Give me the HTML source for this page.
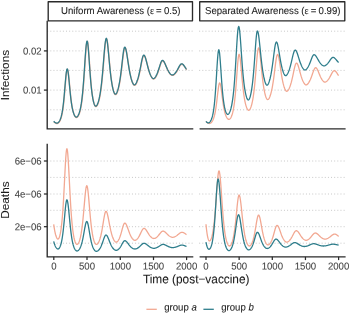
<!DOCTYPE html>
<html><head><meta charset="utf-8"><title>chart</title>
<style>
html,body{margin:0;padding:0;background:#fff;}
body{width:350px;height:315px;overflow:hidden;position:relative;font-family:"Liberation Sans",sans-serif;}
svg text{font-family:"Liberation Sans",sans-serif;stroke-width:0.08px;}
</style></head><body>
<svg width="350" height="315" viewBox="0 0 350 315" style="position:absolute;left:0;top:0;will-change:transform"><line x1="47.2" x2="193.3" y1="31.2" y2="31.2" stroke="#bebebe" stroke-width="0.9" stroke-dasharray="0.95 2.19"/><line x1="47.2" x2="193.3" y1="50.9" y2="50.9" stroke="#bebebe" stroke-width="0.9" stroke-dasharray="0.95 2.19"/><line x1="47.2" x2="193.3" y1="70.4" y2="70.4" stroke="#bebebe" stroke-width="0.9" stroke-dasharray="0.95 2.19"/><line x1="47.2" x2="193.3" y1="90.1" y2="90.1" stroke="#bebebe" stroke-width="0.9" stroke-dasharray="0.95 2.19"/><line x1="47.2" x2="193.3" y1="109.8" y2="109.8" stroke="#bebebe" stroke-width="0.9" stroke-dasharray="0.95 2.19"/><line x1="199.2" x2="345.6" y1="31.2" y2="31.2" stroke="#bebebe" stroke-width="0.9" stroke-dasharray="0.95 2.19"/><line x1="199.2" x2="345.6" y1="50.9" y2="50.9" stroke="#bebebe" stroke-width="0.9" stroke-dasharray="0.95 2.19"/><line x1="199.2" x2="345.6" y1="70.4" y2="70.4" stroke="#bebebe" stroke-width="0.9" stroke-dasharray="0.95 2.19"/><line x1="199.2" x2="345.6" y1="90.1" y2="90.1" stroke="#bebebe" stroke-width="0.9" stroke-dasharray="0.95 2.19"/><line x1="199.2" x2="345.6" y1="109.8" y2="109.8" stroke="#bebebe" stroke-width="0.9" stroke-dasharray="0.95 2.19"/><line x1="47.2" x2="193.3" y1="161.0" y2="161.0" stroke="#bebebe" stroke-width="0.9" stroke-dasharray="0.95 2.19"/><line x1="47.2" x2="193.3" y1="177.4" y2="177.4" stroke="#bebebe" stroke-width="0.9" stroke-dasharray="0.95 2.19"/><line x1="47.2" x2="193.3" y1="194.0" y2="194.0" stroke="#bebebe" stroke-width="0.9" stroke-dasharray="0.95 2.19"/><line x1="47.2" x2="193.3" y1="210.3" y2="210.3" stroke="#bebebe" stroke-width="0.9" stroke-dasharray="0.95 2.19"/><line x1="47.2" x2="193.3" y1="226.7" y2="226.7" stroke="#bebebe" stroke-width="0.9" stroke-dasharray="0.95 2.19"/><line x1="47.2" x2="193.3" y1="243.2" y2="243.2" stroke="#bebebe" stroke-width="0.9" stroke-dasharray="0.95 2.19"/><line x1="199.2" x2="345.6" y1="161.0" y2="161.0" stroke="#bebebe" stroke-width="0.9" stroke-dasharray="0.95 2.19"/><line x1="199.2" x2="345.6" y1="177.4" y2="177.4" stroke="#bebebe" stroke-width="0.9" stroke-dasharray="0.95 2.19"/><line x1="199.2" x2="345.6" y1="194.0" y2="194.0" stroke="#bebebe" stroke-width="0.9" stroke-dasharray="0.95 2.19"/><line x1="199.2" x2="345.6" y1="210.3" y2="210.3" stroke="#bebebe" stroke-width="0.9" stroke-dasharray="0.95 2.19"/><line x1="199.2" x2="345.6" y1="226.7" y2="226.7" stroke="#bebebe" stroke-width="0.9" stroke-dasharray="0.95 2.19"/><line x1="199.2" x2="345.6" y1="243.2" y2="243.2" stroke="#bebebe" stroke-width="0.9" stroke-dasharray="0.95 2.19"/><g transform="translate(0.15,0.4)"><path d="M53.70,121.30 L53.83,121.44 L53.97,121.58 L54.10,121.71 L54.23,121.84 L54.37,121.96 L54.50,122.07 L54.63,122.18 L54.77,122.28 L54.90,122.38 L55.03,122.47 L55.17,122.55 L55.30,122.63 L55.43,122.70 L55.57,122.77 L55.70,122.83 L55.83,122.89 L55.97,122.94 L56.10,122.98 L56.23,123.02 L56.37,123.05 L56.50,123.07 L56.63,123.09 L56.77,123.10 L56.90,123.10 L57.33,123.04 L57.76,122.86 L58.19,122.57 L58.62,122.16 L59.05,121.64 L59.48,120.98 L59.90,120.18 L60.33,119.21 L60.76,118.04 L61.19,116.63 L61.62,114.93 L62.05,112.88 L62.48,110.43 L62.91,107.51 L63.34,104.08 L63.77,100.11 L64.20,95.62 L64.62,90.71 L65.05,85.58 L65.48,80.51 L65.91,75.90 L66.34,72.17 L66.77,69.74 L67.20,68.90 L67.58,69.49 L67.96,71.22 L68.34,73.91 L68.72,77.31 L69.10,81.17 L69.47,85.21 L69.85,89.23 L70.23,93.06 L70.61,96.60 L70.99,99.80 L71.37,102.63 L71.75,105.12 L72.13,107.27 L72.51,109.14 L72.89,110.74 L73.27,112.12 L73.65,113.30 L74.03,114.30 L74.40,115.14 L74.78,115.83 L75.16,116.38 L75.54,116.77 L75.92,117.02 L76.30,117.10 L76.75,117.00 L77.20,116.69 L77.65,116.20 L78.10,115.51 L78.55,114.64 L79.00,113.55 L79.45,112.24 L79.90,110.67 L80.35,108.80 L80.80,106.58 L81.25,103.96 L81.70,100.85 L82.15,97.19 L82.60,92.92 L83.05,87.98 L83.50,82.37 L83.95,76.16 L84.40,69.49 L84.85,62.63 L85.30,55.96 L85.75,49.96 L86.20,45.18 L86.65,42.07 L87.10,41.00 L87.46,41.73 L87.82,43.85 L88.17,47.18 L88.53,51.43 L88.89,56.30 L89.25,61.48 L89.61,66.70 L89.97,71.76 L90.33,76.51 L90.68,80.87 L91.04,84.80 L91.40,88.30 L91.76,91.39 L92.12,94.10 L92.47,96.47 L92.83,98.53 L93.19,100.31 L93.55,101.84 L93.91,103.13 L94.27,104.21 L94.62,105.06 L94.98,105.68 L95.34,106.07 L95.70,106.20 L96.14,106.07 L96.58,105.67 L97.03,105.03 L97.47,104.16 L97.91,103.06 L98.35,101.73 L98.79,100.16 L99.23,98.33 L99.67,96.21 L100.12,93.77 L100.56,90.97 L101.00,87.77 L101.44,84.14 L101.88,80.06 L102.33,75.52 L102.77,70.57 L103.21,65.29 L103.65,59.82 L104.09,54.39 L104.53,49.28 L104.97,44.80 L105.42,41.30 L105.86,39.07 L106.30,38.30 L106.68,38.83 L107.06,40.40 L107.44,42.87 L107.82,46.08 L108.20,49.81 L108.58,53.86 L108.95,58.03 L109.33,62.17 L109.71,66.16 L110.09,69.91 L110.47,73.38 L110.85,76.54 L111.23,79.40 L111.61,81.96 L111.99,84.24 L112.37,86.27 L112.75,88.05 L113.12,89.61 L113.50,90.95 L113.88,92.07 L114.26,92.98 L114.64,93.64 L115.02,94.06 L115.40,94.20 L115.79,94.07 L116.18,93.70 L116.58,93.11 L116.97,92.31 L117.36,91.31 L117.75,90.13 L118.14,88.76 L118.53,87.19 L118.92,85.43 L119.32,83.45 L119.71,81.24 L120.10,78.79 L120.49,76.09 L120.88,73.15 L121.28,70.00 L121.67,66.66 L122.06,63.22 L122.45,59.78 L122.84,56.45 L123.23,53.40 L123.62,50.80 L124.02,48.79 L124.41,47.53 L124.80,47.10 L125.20,47.41 L125.60,48.33 L126.00,49.79 L126.40,51.71 L126.80,53.98 L127.20,56.48 L127.60,59.12 L128.00,61.78 L128.40,64.40 L128.80,66.92 L129.20,69.30 L129.60,71.52 L130.00,73.56 L130.40,75.42 L130.80,77.12 L131.20,78.65 L131.60,80.02 L132.00,81.23 L132.40,82.28 L132.80,83.18 L133.20,83.90 L133.60,84.45 L134.00,84.78 L134.40,84.90 L134.79,84.80 L135.18,84.52 L135.58,84.07 L135.97,83.47 L136.36,82.73 L136.75,81.86 L137.14,80.86 L137.53,79.75 L137.93,78.50 L138.32,77.13 L138.71,75.63 L139.10,73.99 L139.49,72.23 L139.88,70.35 L140.28,68.37 L140.67,66.32 L141.06,64.26 L141.45,62.23 L141.84,60.32 L142.23,58.59 L142.62,57.13 L143.02,56.03 L143.41,55.34 L143.80,55.10 L144.20,55.27 L144.60,55.79 L145.00,56.61 L145.40,57.70 L145.80,59.00 L146.20,60.46 L146.60,62.01 L147.00,63.60 L147.40,65.19 L147.80,66.74 L148.20,68.22 L148.60,69.63 L149.00,70.94 L149.40,72.16 L149.80,73.28 L150.20,74.30 L150.60,75.22 L151.00,76.05 L151.40,76.77 L151.80,77.39 L152.20,77.90 L152.60,78.28 L153.00,78.52 L153.40,78.60 L153.78,78.53 L154.16,78.34 L154.54,78.04 L154.92,77.63 L155.30,77.13 L155.68,76.55 L156.05,75.90 L156.43,75.16 L156.81,74.35 L157.19,73.47 L157.57,72.52 L157.95,71.49 L158.33,70.40 L158.71,69.25 L159.09,68.05 L159.47,66.83 L159.85,65.61 L160.22,64.44 L160.60,63.34 L160.98,62.35 L161.36,61.53 L161.74,60.92 L162.12,60.53 L162.50,60.40 L162.91,60.50 L163.32,60.80 L163.72,61.28 L164.13,61.92 L164.54,62.69 L164.95,63.55 L165.36,64.48 L165.77,65.45 L166.18,66.42 L166.58,67.37 L166.99,68.30 L167.40,69.18 L167.81,70.01 L168.22,70.78 L168.62,71.50 L169.03,72.16 L169.44,72.76 L169.85,73.31 L170.26,73.78 L170.67,74.20 L171.08,74.53 L171.48,74.79 L171.89,74.95 L172.30,75.00 L172.69,74.96 L173.08,74.83 L173.48,74.63 L173.87,74.37 L174.26,74.04 L174.65,73.67 L175.04,73.25 L175.43,72.78 L175.82,72.26 L176.22,71.71 L176.61,71.11 L177.00,70.46 L177.39,69.79 L177.78,69.08 L178.18,68.35 L178.57,67.61 L178.96,66.88 L179.35,66.17 L179.74,65.52 L180.13,64.94 L180.52,64.46 L180.92,64.10 L181.31,63.88 L181.70,63.80 L181.90,63.82 L182.10,63.86 L182.30,63.94 L182.50,64.05 L182.70,64.19 L182.90,64.35 L183.10,64.54 L183.30,64.75 L183.50,64.98 L183.70,65.23 L183.90,65.49 L184.10,65.77 L184.30,66.05 L184.50,66.35 L184.70,66.65 L184.90,66.95 L185.10,67.26 L185.30,67.56 L185.50,67.86 L185.70,68.16 L185.90,68.46 L186.10,68.74 L186.30,69.03 L186.50,69.30" fill="none" stroke="#f2a892" stroke-width="1.45" stroke-linejoin="round" stroke-linecap="butt"/></g><path d="M53.70,121.30 L53.83,121.44 L53.97,121.58 L54.10,121.71 L54.23,121.84 L54.37,121.96 L54.50,122.07 L54.63,122.18 L54.77,122.28 L54.90,122.38 L55.03,122.47 L55.17,122.55 L55.30,122.63 L55.43,122.70 L55.57,122.77 L55.70,122.83 L55.83,122.89 L55.97,122.94 L56.10,122.98 L56.23,123.02 L56.37,123.05 L56.50,123.07 L56.63,123.09 L56.77,123.10 L56.90,123.10 L57.33,123.04 L57.76,122.86 L58.19,122.57 L58.62,122.16 L59.05,121.64 L59.48,120.98 L59.90,120.18 L60.33,119.21 L60.76,118.04 L61.19,116.63 L61.62,114.93 L62.05,112.88 L62.48,110.43 L62.91,107.51 L63.34,104.08 L63.77,100.11 L64.20,95.62 L64.62,90.71 L65.05,85.58 L65.48,80.51 L65.91,75.90 L66.34,72.17 L66.77,69.74 L67.20,68.90 L67.58,69.49 L67.96,71.22 L68.34,73.91 L68.72,77.31 L69.10,81.17 L69.47,85.21 L69.85,89.23 L70.23,93.06 L70.61,96.60 L70.99,99.80 L71.37,102.63 L71.75,105.12 L72.13,107.27 L72.51,109.14 L72.89,110.74 L73.27,112.12 L73.65,113.30 L74.03,114.30 L74.40,115.14 L74.78,115.83 L75.16,116.38 L75.54,116.77 L75.92,117.02 L76.30,117.10 L76.75,117.00 L77.20,116.69 L77.65,116.20 L78.10,115.51 L78.55,114.64 L79.00,113.55 L79.45,112.24 L79.90,110.67 L80.35,108.80 L80.80,106.58 L81.25,103.96 L81.70,100.85 L82.15,97.19 L82.60,92.92 L83.05,87.98 L83.50,82.37 L83.95,76.16 L84.40,69.49 L84.85,62.63 L85.30,55.96 L85.75,49.96 L86.20,45.18 L86.65,42.07 L87.10,41.00 L87.46,41.73 L87.82,43.85 L88.17,47.18 L88.53,51.43 L88.89,56.30 L89.25,61.48 L89.61,66.70 L89.97,71.76 L90.33,76.51 L90.68,80.87 L91.04,84.80 L91.40,88.30 L91.76,91.39 L92.12,94.10 L92.47,96.47 L92.83,98.53 L93.19,100.31 L93.55,101.84 L93.91,103.13 L94.27,104.21 L94.62,105.06 L94.98,105.68 L95.34,106.07 L95.70,106.20 L96.14,106.07 L96.58,105.67 L97.03,105.03 L97.47,104.16 L97.91,103.06 L98.35,101.73 L98.79,100.16 L99.23,98.33 L99.67,96.21 L100.12,93.77 L100.56,90.97 L101.00,87.77 L101.44,84.14 L101.88,80.06 L102.33,75.52 L102.77,70.57 L103.21,65.29 L103.65,59.82 L104.09,54.39 L104.53,49.28 L104.97,44.80 L105.42,41.30 L105.86,39.07 L106.30,38.30 L106.68,38.83 L107.06,40.40 L107.44,42.87 L107.82,46.08 L108.20,49.81 L108.58,53.86 L108.95,58.03 L109.33,62.17 L109.71,66.16 L110.09,69.91 L110.47,73.38 L110.85,76.54 L111.23,79.40 L111.61,81.96 L111.99,84.24 L112.37,86.27 L112.75,88.05 L113.12,89.61 L113.50,90.95 L113.88,92.07 L114.26,92.98 L114.64,93.64 L115.02,94.06 L115.40,94.20 L115.79,94.07 L116.18,93.70 L116.58,93.11 L116.97,92.31 L117.36,91.31 L117.75,90.13 L118.14,88.76 L118.53,87.19 L118.92,85.43 L119.32,83.45 L119.71,81.24 L120.10,78.79 L120.49,76.09 L120.88,73.15 L121.28,70.00 L121.67,66.66 L122.06,63.22 L122.45,59.78 L122.84,56.45 L123.23,53.40 L123.62,50.80 L124.02,48.79 L124.41,47.53 L124.80,47.10 L125.20,47.41 L125.60,48.33 L126.00,49.79 L126.40,51.71 L126.80,53.98 L127.20,56.48 L127.60,59.12 L128.00,61.78 L128.40,64.40 L128.80,66.92 L129.20,69.30 L129.60,71.52 L130.00,73.56 L130.40,75.42 L130.80,77.12 L131.20,78.65 L131.60,80.02 L132.00,81.23 L132.40,82.28 L132.80,83.18 L133.20,83.90 L133.60,84.45 L134.00,84.78 L134.40,84.90 L134.79,84.80 L135.18,84.52 L135.58,84.07 L135.97,83.47 L136.36,82.73 L136.75,81.86 L137.14,80.86 L137.53,79.75 L137.93,78.50 L138.32,77.13 L138.71,75.63 L139.10,73.99 L139.49,72.23 L139.88,70.35 L140.28,68.37 L140.67,66.32 L141.06,64.26 L141.45,62.23 L141.84,60.32 L142.23,58.59 L142.62,57.13 L143.02,56.03 L143.41,55.34 L143.80,55.10 L144.20,55.27 L144.60,55.79 L145.00,56.61 L145.40,57.70 L145.80,59.00 L146.20,60.46 L146.60,62.01 L147.00,63.60 L147.40,65.19 L147.80,66.74 L148.20,68.22 L148.60,69.63 L149.00,70.94 L149.40,72.16 L149.80,73.28 L150.20,74.30 L150.60,75.22 L151.00,76.05 L151.40,76.77 L151.80,77.39 L152.20,77.90 L152.60,78.28 L153.00,78.52 L153.40,78.60 L153.78,78.53 L154.16,78.34 L154.54,78.04 L154.92,77.63 L155.30,77.13 L155.68,76.55 L156.05,75.90 L156.43,75.16 L156.81,74.35 L157.19,73.47 L157.57,72.52 L157.95,71.49 L158.33,70.40 L158.71,69.25 L159.09,68.05 L159.47,66.83 L159.85,65.61 L160.22,64.44 L160.60,63.34 L160.98,62.35 L161.36,61.53 L161.74,60.92 L162.12,60.53 L162.50,60.40 L162.91,60.50 L163.32,60.80 L163.72,61.28 L164.13,61.92 L164.54,62.69 L164.95,63.55 L165.36,64.48 L165.77,65.45 L166.18,66.42 L166.58,67.37 L166.99,68.30 L167.40,69.18 L167.81,70.01 L168.22,70.78 L168.62,71.50 L169.03,72.16 L169.44,72.76 L169.85,73.31 L170.26,73.78 L170.67,74.20 L171.08,74.53 L171.48,74.79 L171.89,74.95 L172.30,75.00 L172.69,74.96 L173.08,74.83 L173.48,74.63 L173.87,74.37 L174.26,74.04 L174.65,73.67 L175.04,73.25 L175.43,72.78 L175.82,72.26 L176.22,71.71 L176.61,71.11 L177.00,70.46 L177.39,69.79 L177.78,69.08 L178.18,68.35 L178.57,67.61 L178.96,66.88 L179.35,66.17 L179.74,65.52 L180.13,64.94 L180.52,64.46 L180.92,64.10 L181.31,63.88 L181.70,63.80 L181.90,63.82 L182.10,63.86 L182.30,63.94 L182.50,64.05 L182.70,64.19 L182.90,64.35 L183.10,64.54 L183.30,64.75 L183.50,64.98 L183.70,65.23 L183.90,65.49 L184.10,65.77 L184.30,66.05 L184.50,66.35 L184.70,66.65 L184.90,66.95 L185.10,67.26 L185.30,67.56 L185.50,67.86 L185.70,68.16 L185.90,68.46 L186.10,68.74 L186.30,69.03 L186.50,69.30" fill="none" stroke="#2f7e8c" stroke-width="1.3" stroke-linejoin="round" stroke-linecap="butt"/><path d="M206.00,121.30 L206.14,121.48 L206.28,121.65 L206.43,121.82 L206.57,121.97 L206.71,122.12 L206.85,122.26 L206.99,122.39 L207.13,122.51 L207.28,122.63 L207.42,122.74 L207.56,122.84 L207.70,122.94 L207.84,123.02 L207.98,123.10 L208.12,123.18 L208.27,123.24 L208.41,123.30 L208.55,123.35 L208.69,123.40 L208.83,123.43 L208.97,123.46 L209.12,123.48 L209.26,123.50 L209.40,123.50 L209.83,123.45 L210.26,123.30 L210.69,123.05 L211.12,122.71 L211.55,122.26 L211.97,121.72 L212.40,121.05 L212.83,120.25 L213.26,119.30 L213.69,118.16 L214.12,116.80 L214.55,115.18 L214.98,113.27 L215.41,111.02 L215.84,108.41 L216.27,105.42 L216.70,102.08 L217.12,98.48 L217.55,94.76 L217.98,91.12 L218.41,87.84 L218.84,85.20 L219.27,83.49 L219.70,82.90 L220.08,83.34 L220.47,84.62 L220.85,86.62 L221.23,89.16 L221.62,92.03 L222.00,95.06 L222.38,98.08 L222.77,100.97 L223.15,103.65 L223.53,106.07 L223.92,108.23 L224.30,110.13 L224.68,111.78 L225.07,113.22 L225.45,114.46 L225.83,115.52 L226.22,116.44 L226.60,117.22 L226.98,117.87 L227.37,118.41 L227.75,118.83 L228.13,119.14 L228.52,119.34 L228.90,119.40 L229.33,119.31 L229.75,119.06 L230.18,118.65 L230.60,118.08 L231.03,117.35 L231.45,116.44 L231.88,115.35 L232.30,114.03 L232.72,112.47 L233.15,110.60 L233.57,108.38 L234.00,105.76 L234.43,102.66 L234.85,99.02 L235.28,94.81 L235.70,90.02 L236.12,84.69 L236.55,78.95 L236.97,73.03 L237.40,67.27 L237.82,62.08 L238.25,57.93 L238.67,55.23 L239.10,54.30 L239.50,54.93 L239.90,56.78 L240.30,59.67 L240.70,63.36 L241.10,67.58 L241.50,72.06 L241.90,76.57 L242.30,80.93 L242.70,85.01 L243.10,88.75 L243.50,92.12 L243.90,95.11 L244.30,97.75 L244.70,100.06 L245.10,102.07 L245.50,103.81 L245.90,105.32 L246.30,106.62 L246.70,107.71 L247.10,108.62 L247.50,109.34 L247.90,109.86 L248.30,110.19 L248.70,110.30 L249.11,110.18 L249.52,109.84 L249.94,109.28 L250.35,108.51 L250.76,107.55 L251.18,106.38 L251.59,104.99 L252.00,103.36 L252.41,101.48 L252.82,99.30 L253.24,96.78 L253.65,93.89 L254.06,90.60 L254.48,86.88 L254.89,82.72 L255.30,78.15 L255.71,73.26 L256.12,68.17 L256.54,63.09 L256.95,58.28 L257.36,54.06 L257.78,50.75 L258.19,48.63 L258.60,47.90 L258.98,48.41 L259.36,49.88 L259.74,52.22 L260.12,55.24 L260.50,58.75 L260.88,62.55 L261.25,66.45 L261.63,70.31 L262.01,74.01 L262.39,77.48 L262.77,80.68 L263.15,83.58 L263.53,86.20 L263.91,88.54 L264.29,90.61 L264.67,92.45 L265.05,94.07 L265.43,95.47 L265.80,96.68 L266.18,97.69 L266.56,98.50 L266.94,99.10 L267.32,99.47 L267.70,99.60 L268.11,99.48 L268.52,99.14 L268.94,98.60 L269.35,97.86 L269.76,96.94 L270.18,95.84 L270.59,94.57 L271.00,93.11 L271.41,91.46 L271.82,89.60 L272.24,87.52 L272.65,85.21 L273.06,82.65 L273.48,79.84 L273.89,76.82 L274.30,73.61 L274.71,70.28 L275.12,66.93 L275.54,63.69 L275.95,60.71 L276.36,58.14 L276.78,56.17 L277.19,54.93 L277.60,54.50 L277.98,54.81 L278.36,55.73 L278.74,57.19 L279.12,59.10 L279.50,61.35 L279.88,63.83 L280.25,66.43 L280.63,69.05 L281.01,71.62 L281.39,74.07 L281.77,76.38 L282.15,78.53 L282.53,80.50 L282.91,82.29 L283.29,83.92 L283.67,85.38 L284.05,86.68 L284.43,87.83 L284.80,88.83 L285.18,89.68 L285.56,90.36 L285.94,90.87 L286.32,91.19 L286.70,91.30 L287.11,91.21 L287.52,90.95 L287.93,90.53 L288.33,89.97 L288.74,89.29 L289.15,88.48 L289.56,87.55 L289.97,86.51 L290.38,85.35 L290.78,84.06 L291.19,82.65 L291.60,81.11 L292.01,79.45 L292.42,77.67 L292.82,75.80 L293.23,73.86 L293.64,71.89 L294.05,69.95 L294.46,68.12 L294.87,66.46 L295.27,65.06 L295.68,63.99 L296.09,63.33 L296.50,63.10 L296.90,63.26 L297.30,63.74 L297.70,64.51 L298.10,65.53 L298.50,66.75 L298.90,68.11 L299.30,69.55 L299.70,71.03 L300.10,72.51 L300.50,73.95 L300.90,75.32 L301.30,76.63 L301.70,77.84 L302.10,78.97 L302.50,80.00 L302.90,80.94 L303.30,81.79 L303.70,82.55 L304.10,83.22 L304.50,83.79 L304.90,84.26 L305.30,84.61 L305.70,84.82 L306.10,84.90 L306.50,84.84 L306.90,84.66 L307.30,84.37 L307.70,83.99 L308.10,83.53 L308.50,82.98 L308.90,82.37 L309.30,81.68 L309.70,80.92 L310.10,80.09 L310.50,79.19 L310.90,78.22 L311.30,77.19 L311.70,76.10 L312.10,74.97 L312.50,73.82 L312.90,72.66 L313.30,71.54 L313.70,70.50 L314.10,69.56 L314.50,68.78 L314.90,68.19 L315.30,67.82 L315.70,67.70 L316.08,67.80 L316.47,68.10 L316.85,68.58 L317.23,69.22 L317.62,69.98 L318.00,70.85 L318.38,71.77 L318.77,72.72 L319.15,73.68 L319.53,74.63 L319.92,75.54 L320.30,76.41 L320.68,77.22 L321.07,77.98 L321.45,78.69 L321.83,79.33 L322.22,79.92 L322.60,80.45 L322.98,80.92 L323.37,81.32 L323.75,81.65 L324.13,81.89 L324.52,82.05 L324.90,82.10 L325.29,82.06 L325.68,81.93 L326.07,81.73 L326.47,81.47 L326.86,81.14 L327.25,80.76 L327.64,80.34 L328.03,79.86 L328.43,79.35 L328.82,78.78 L329.21,78.17 L329.60,77.52 L329.99,76.83 L330.38,76.11 L330.77,75.37 L331.17,74.61 L331.56,73.86 L331.95,73.14 L332.34,72.47 L332.73,71.88 L333.12,71.38 L333.52,71.01 L333.91,70.78 L334.30,70.70 L334.48,70.71 L334.66,70.75 L334.84,70.82 L335.02,70.91 L335.20,71.03 L335.38,71.16 L335.55,71.33 L335.73,71.51 L335.91,71.71 L336.09,71.92 L336.27,72.15 L336.45,72.40 L336.63,72.65 L336.81,72.92 L336.99,73.19 L337.17,73.47 L337.35,73.75 L337.53,74.03 L337.70,74.31 L337.88,74.60 L338.06,74.88 L338.24,75.16 L338.42,75.43 L338.60,75.70" fill="none" stroke="#f2a892" stroke-width="1.3" stroke-linejoin="round" stroke-linecap="butt"/><path d="M206.00,121.30 L206.10,121.43 L206.19,121.56 L206.29,121.68 L206.38,121.79 L206.48,121.90 L206.57,122.00 L206.67,122.10 L206.77,122.19 L206.86,122.27 L206.96,122.35 L207.05,122.43 L207.15,122.50 L207.25,122.56 L207.34,122.62 L207.44,122.67 L207.53,122.72 L207.63,122.76 L207.73,122.80 L207.82,122.83 L207.92,122.85 L208.01,122.87 L208.11,122.89 L208.20,122.90 L208.30,122.90 L208.74,122.83 L209.18,122.63 L209.61,122.29 L210.05,121.82 L210.49,121.21 L210.93,120.44 L211.36,119.49 L211.80,118.33 L212.24,116.91 L212.68,115.18 L213.11,113.06 L213.55,110.49 L213.99,107.35 L214.43,103.56 L214.86,99.04 L215.30,93.72 L215.74,87.61 L216.18,80.83 L216.61,73.64 L217.05,66.45 L217.49,59.84 L217.93,54.46 L218.36,50.93 L218.80,49.70 L219.17,50.52 L219.54,52.90 L219.91,56.60 L220.28,61.27 L220.65,66.55 L221.03,72.06 L221.40,77.52 L221.77,82.69 L222.14,87.45 L222.51,91.72 L222.88,95.50 L223.25,98.79 L223.62,101.63 L223.99,104.08 L224.36,106.18 L224.73,107.98 L225.10,109.51 L225.47,110.80 L225.85,111.89 L226.22,112.78 L226.59,113.47 L226.96,113.98 L227.33,114.29 L227.70,114.40 L228.16,114.28 L228.62,113.92 L229.07,113.33 L229.53,112.51 L229.99,111.47 L230.45,110.18 L230.91,108.63 L231.37,106.77 L231.82,104.57 L232.28,101.96 L232.74,98.88 L233.20,95.24 L233.66,90.97 L234.12,86.00 L234.57,80.27 L235.03,73.79 L235.49,66.62 L235.95,58.95 L236.41,51.08 L236.87,43.45 L237.32,36.61 L237.78,31.15 L238.24,27.62 L238.70,26.40 L239.10,27.20 L239.50,29.52 L239.90,33.16 L240.30,37.83 L240.70,43.20 L241.10,48.94 L241.50,54.75 L241.90,60.41 L242.30,65.75 L242.70,70.68 L243.10,75.15 L243.50,79.15 L243.90,82.70 L244.30,85.83 L244.70,88.57 L245.10,90.97 L245.50,93.05 L245.90,94.84 L246.30,96.37 L246.70,97.64 L247.10,98.65 L247.50,99.39 L247.90,99.84 L248.30,100.00 L248.68,99.85 L249.06,99.41 L249.44,98.70 L249.82,97.73 L250.20,96.51 L250.57,95.05 L250.95,93.33 L251.33,91.34 L251.71,89.06 L252.09,86.45 L252.47,83.48 L252.85,80.12 L253.23,76.35 L253.61,72.14 L253.99,67.52 L254.37,62.52 L254.75,57.24 L255.12,51.84 L255.50,46.52 L255.88,41.55 L256.26,37.23 L256.64,33.87 L257.02,31.73 L257.40,31.00 L257.80,31.49 L258.20,32.91 L258.60,35.17 L259.00,38.12 L259.40,41.57 L259.80,45.35 L260.20,49.27 L260.60,53.20 L261.00,57.02 L261.40,60.65 L261.80,64.04 L262.20,67.16 L262.60,70.00 L263.00,72.58 L263.40,74.89 L263.80,76.95 L264.20,78.78 L264.60,80.39 L265.00,81.79 L265.40,82.96 L265.80,83.91 L266.20,84.61 L266.60,85.05 L267.00,85.20 L267.39,85.07 L267.78,84.70 L268.18,84.10 L268.57,83.30 L268.96,82.31 L269.35,81.14 L269.74,79.79 L270.13,78.26 L270.52,76.55 L270.92,74.65 L271.31,72.55 L271.70,70.24 L272.09,67.72 L272.48,65.01 L272.88,62.12 L273.27,59.11 L273.66,56.03 L274.05,52.98 L274.44,50.06 L274.83,47.41 L275.22,45.17 L275.62,43.45 L276.01,42.37 L276.40,42.00 L276.78,42.26 L277.17,43.04 L277.55,44.27 L277.93,45.90 L278.32,47.84 L278.70,49.99 L279.08,52.27 L279.47,54.59 L279.85,56.90 L280.23,59.14 L280.62,61.26 L281.00,63.26 L281.38,65.12 L281.77,66.83 L282.15,68.39 L282.53,69.81 L282.92,71.08 L283.30,72.22 L283.68,73.21 L284.07,74.06 L284.45,74.75 L284.83,75.27 L285.22,75.59 L285.60,75.70 L286.00,75.61 L286.40,75.35 L286.80,74.94 L287.20,74.39 L287.60,73.72 L288.00,72.93 L288.40,72.03 L288.80,71.03 L289.20,69.92 L289.60,68.71 L290.00,67.39 L290.40,65.96 L290.80,64.43 L291.20,62.81 L291.60,61.12 L292.00,59.39 L292.40,57.65 L292.80,55.96 L293.20,54.37 L293.60,52.95 L294.00,51.75 L294.40,50.85 L294.80,50.29 L295.20,50.10 L295.61,50.24 L296.02,50.66 L296.43,51.33 L296.83,52.22 L297.24,53.29 L297.65,54.48 L298.06,55.77 L298.47,57.09 L298.88,58.42 L299.28,59.73 L299.69,60.99 L300.10,62.19 L300.51,63.31 L300.92,64.36 L301.32,65.33 L301.73,66.21 L302.14,67.02 L302.55,67.74 L302.96,68.38 L303.37,68.93 L303.77,69.38 L304.18,69.72 L304.59,69.93 L305.00,70.00 L305.38,69.94 L305.76,69.77 L306.14,69.51 L306.52,69.15 L306.90,68.72 L307.27,68.22 L307.65,67.65 L308.03,67.02 L308.41,66.32 L308.79,65.57 L309.17,64.75 L309.55,63.88 L309.93,62.96 L310.31,61.99 L310.69,60.99 L311.07,59.97 L311.45,58.97 L311.83,58.00 L312.20,57.09 L312.58,56.29 L312.96,55.62 L313.34,55.12 L313.72,54.81 L314.10,54.70 L314.51,54.78 L314.93,55.00 L315.34,55.35 L315.75,55.83 L316.16,56.40 L316.58,57.05 L316.99,57.75 L317.40,58.48 L317.81,59.21 L318.23,59.94 L318.64,60.65 L319.05,61.33 L319.46,61.97 L319.88,62.58 L320.29,63.14 L320.70,63.66 L321.11,64.13 L321.52,64.56 L321.94,64.93 L322.35,65.26 L322.76,65.53 L323.18,65.73 L323.59,65.86 L324.00,65.90 L324.38,65.87 L324.76,65.77 L325.14,65.61 L325.52,65.41 L325.90,65.15 L326.27,64.86 L326.65,64.53 L327.03,64.17 L327.41,63.77 L327.79,63.34 L328.17,62.88 L328.55,62.39 L328.93,61.88 L329.31,61.34 L329.69,60.79 L330.07,60.23 L330.45,59.68 L330.83,59.16 L331.20,58.67 L331.58,58.24 L331.96,57.89 L332.34,57.62 L332.72,57.46 L333.10,57.40 L333.33,57.42 L333.56,57.47 L333.79,57.55 L334.02,57.66 L334.25,57.81 L334.48,57.98 L334.70,58.17 L334.93,58.38 L335.16,58.62 L335.39,58.86 L335.62,59.12 L335.85,59.39 L336.08,59.67 L336.31,59.94 L336.54,60.22 L336.77,60.50 L337.00,60.77 L337.23,61.04 L337.45,61.31 L337.68,61.56 L337.91,61.81 L338.14,62.05 L338.37,62.28 L338.60,62.50" fill="none" stroke="#2f7e8c" stroke-width="1.3" stroke-linejoin="round" stroke-linecap="butt"/><path d="M53.70,224.30 L53.88,225.59 L54.06,226.81 L54.24,227.96 L54.42,229.04 L54.60,230.06 L54.77,231.01 L54.95,231.90 L55.13,232.73 L55.31,233.51 L55.49,234.23 L55.67,234.90 L55.85,235.51 L56.03,236.08 L56.21,236.60 L56.39,237.06 L56.57,237.49 L56.75,237.86 L56.92,238.18 L57.10,238.46 L57.28,238.69 L57.46,238.87 L57.64,239.00 L57.82,239.07 L58.00,239.10 L58.37,238.95 L58.74,238.52 L59.11,237.79 L59.48,236.79 L59.85,235.49 L60.23,233.88 L60.60,231.94 L60.97,229.63 L61.34,226.91 L61.71,223.73 L62.08,220.03 L62.45,215.77 L62.82,210.89 L63.19,205.37 L63.56,199.21 L63.93,192.47 L64.30,185.28 L64.68,177.84 L65.05,170.47 L65.42,163.53 L65.79,157.48 L66.16,152.75 L66.53,149.74 L66.90,148.70 L67.32,149.92 L67.74,153.45 L68.16,158.96 L68.58,165.95 L69.00,173.86 L69.43,182.16 L69.85,190.38 L70.27,198.20 L70.69,205.39 L71.11,211.84 L71.53,217.51 L71.95,222.43 L72.37,226.65 L72.79,230.24 L73.21,233.28 L73.63,235.84 L74.05,237.98 L74.47,239.75 L74.90,241.20 L75.32,242.36 L75.74,243.26 L76.16,243.89 L76.58,244.27 L77.00,244.40 L77.41,244.30 L77.82,243.99 L78.22,243.50 L78.63,242.80 L79.04,241.91 L79.45,240.81 L79.86,239.48 L80.27,237.91 L80.67,236.07 L81.08,233.93 L81.49,231.46 L81.90,228.63 L82.31,225.41 L82.72,221.80 L83.12,217.79 L83.53,213.43 L83.94,208.81 L84.35,204.07 L84.76,199.38 L85.17,195.00 L85.58,191.20 L85.98,188.23 L86.39,186.35 L86.80,185.70 L87.20,186.35 L87.60,188.23 L88.00,191.20 L88.40,195.00 L88.80,199.38 L89.20,204.07 L89.60,208.81 L90.00,213.43 L90.40,217.79 L90.80,221.80 L91.20,225.41 L91.60,228.63 L92.00,231.46 L92.40,233.93 L92.80,236.07 L93.20,237.91 L93.60,239.48 L94.00,240.81 L94.40,241.91 L94.80,242.80 L95.20,243.50 L95.60,243.99 L96.00,244.30 L96.40,244.40 L96.80,244.33 L97.20,244.10 L97.60,243.74 L98.00,243.25 L98.40,242.61 L98.80,241.85 L99.20,240.94 L99.60,239.89 L100.00,238.68 L100.40,237.30 L100.80,235.76 L101.20,234.02 L101.60,232.11 L102.00,230.01 L102.40,227.75 L102.80,225.35 L103.20,222.88 L103.60,220.40 L104.00,218.01 L104.40,215.82 L104.80,213.95 L105.20,212.52 L105.60,211.61 L106.00,211.30 L106.42,211.57 L106.85,212.37 L107.28,213.64 L107.70,215.30 L108.12,217.25 L108.55,219.39 L108.97,221.63 L109.40,223.89 L109.83,226.09 L110.25,228.19 L110.67,230.15 L111.10,231.96 L111.53,233.61 L111.95,235.10 L112.38,236.43 L112.80,237.61 L113.23,238.65 L113.65,239.54 L114.08,240.31 L114.50,240.94 L114.92,241.44 L115.35,241.80 L115.78,242.02 L116.20,242.10 L116.56,242.05 L116.92,241.88 L117.28,241.62 L117.63,241.27 L117.99,240.82 L118.35,240.28 L118.71,239.66 L119.07,238.95 L119.42,238.16 L119.78,237.27 L120.14,236.30 L120.50,235.23 L120.86,234.09 L121.22,232.87 L121.58,231.59 L121.93,230.27 L122.29,228.94 L122.65,227.64 L123.01,226.41 L123.37,225.31 L123.72,224.39 L124.08,223.69 L124.44,223.25 L124.80,223.10 L125.22,223.23 L125.64,223.61 L126.06,224.22 L126.48,225.02 L126.90,225.99 L127.33,227.07 L127.75,228.22 L128.17,229.40 L128.59,230.58 L129.01,231.73 L129.43,232.84 L129.85,233.89 L130.27,234.86 L130.69,235.76 L131.11,236.58 L131.53,237.32 L131.95,237.99 L132.38,238.57 L132.80,239.08 L133.22,239.50 L133.64,239.84 L134.06,240.09 L134.48,240.25 L134.90,240.30 L135.28,240.26 L135.66,240.14 L136.04,239.96 L136.42,239.70 L136.80,239.39 L137.18,239.01 L137.55,238.58 L137.93,238.10 L138.31,237.56 L138.69,236.97 L139.07,236.33 L139.45,235.64 L139.83,234.91 L140.21,234.14 L140.59,233.35 L140.97,232.55 L141.35,231.76 L141.72,230.99 L142.10,230.28 L142.48,229.65 L142.86,229.12 L143.24,228.73 L143.62,228.48 L144.00,228.40 L144.41,228.47 L144.82,228.67 L145.24,228.99 L145.65,229.42 L146.06,229.94 L146.47,230.53 L146.89,231.16 L147.30,231.82 L147.71,232.50 L148.12,233.16 L148.54,233.81 L148.95,234.43 L149.36,235.02 L149.78,235.58 L150.19,236.09 L150.60,236.56 L151.01,236.98 L151.43,237.36 L151.84,237.69 L152.25,237.97 L152.66,238.20 L153.08,238.36 L153.49,238.46 L153.90,238.50 L154.28,238.47 L154.66,238.39 L155.04,238.27 L155.42,238.09 L155.80,237.88 L156.18,237.63 L156.55,237.34 L156.93,237.02 L157.31,236.67 L157.69,236.29 L158.07,235.88 L158.45,235.44 L158.83,234.98 L159.21,234.51 L159.59,234.02 L159.97,233.54 L160.35,233.06 L160.72,232.60 L161.10,232.19 L161.48,231.82 L161.86,231.52 L162.24,231.29 L162.62,231.15 L163.00,231.10 L163.40,231.14 L163.80,231.25 L164.20,231.44 L164.60,231.69 L165.00,231.99 L165.40,232.33 L165.80,232.71 L166.20,233.10 L166.60,233.51 L167.00,233.91 L167.40,234.31 L167.80,234.69 L168.20,235.06 L168.60,235.41 L169.00,235.73 L169.40,236.03 L169.80,236.31 L170.20,236.55 L170.60,236.77 L171.00,236.95 L171.40,237.10 L171.80,237.21 L172.20,237.28 L172.60,237.30 L172.99,237.28 L173.38,237.22 L173.78,237.13 L174.17,237.01 L174.56,236.86 L174.95,236.68 L175.34,236.48 L175.73,236.26 L176.12,236.02 L176.52,235.75 L176.91,235.47 L177.30,235.17 L177.69,234.86 L178.08,234.54 L178.47,234.22 L178.87,233.89 L179.26,233.58 L179.65,233.28 L180.04,233.00 L180.43,232.77 L180.82,232.57 L181.22,232.42 L181.61,232.33 L182.00,232.30 L182.19,232.31 L182.38,232.32 L182.56,232.35 L182.75,232.39 L182.94,232.45 L183.12,232.51 L183.31,232.58 L183.50,232.66 L183.69,232.75 L183.88,232.85 L184.06,232.95 L184.25,233.06 L184.44,233.18 L184.62,233.30 L184.81,233.42 L185.00,233.55 L185.19,233.68 L185.38,233.81 L185.56,233.95 L185.75,234.08 L185.94,234.21 L186.12,234.34 L186.31,234.47 L186.50,234.60" fill="none" stroke="#f2a892" stroke-width="1.3" stroke-linejoin="round" stroke-linecap="butt"/><path d="M53.70,241.40 L53.88,242.06 L54.06,242.69 L54.24,243.28 L54.42,243.83 L54.60,244.35 L54.77,244.84 L54.95,245.30 L55.13,245.73 L55.31,246.13 L55.49,246.50 L55.67,246.84 L55.85,247.16 L56.03,247.45 L56.21,247.71 L56.39,247.95 L56.57,248.17 L56.75,248.36 L56.92,248.53 L57.10,248.67 L57.28,248.79 L57.46,248.88 L57.64,248.95 L57.82,248.99 L58.00,249.00 L58.37,248.92 L58.74,248.69 L59.11,248.31 L59.48,247.78 L59.85,247.09 L60.23,246.23 L60.60,245.20 L60.97,243.97 L61.34,242.51 L61.71,240.81 L62.08,238.82 L62.45,236.52 L62.82,233.88 L63.19,230.89 L63.56,227.54 L63.93,223.87 L64.30,219.94 L64.68,215.86 L65.05,211.81 L65.42,207.99 L65.79,204.65 L66.16,202.04 L66.53,200.37 L66.90,199.80 L67.32,200.44 L67.74,202.31 L68.16,205.21 L68.58,208.91 L69.00,213.10 L69.43,217.50 L69.85,221.87 L70.27,226.04 L70.69,229.88 L71.11,233.34 L71.53,236.39 L71.95,239.04 L72.37,241.32 L72.79,243.27 L73.21,244.92 L73.63,246.31 L74.05,247.48 L74.47,248.45 L74.90,249.24 L75.32,249.88 L75.74,250.37 L76.16,250.72 L76.58,250.93 L77.00,251.00 L77.41,250.95 L77.82,250.78 L78.22,250.52 L78.63,250.15 L79.04,249.68 L79.45,249.10 L79.86,248.41 L80.27,247.59 L80.67,246.63 L81.08,245.53 L81.49,244.26 L81.90,242.81 L82.31,241.17 L82.72,239.34 L83.12,237.32 L83.53,235.14 L83.94,232.84 L84.35,230.49 L84.76,228.19 L85.17,226.04 L85.58,224.18 L85.98,222.73 L86.39,221.81 L86.80,221.50 L87.20,221.82 L87.60,222.76 L88.00,224.24 L88.40,226.14 L88.80,228.33 L89.20,230.68 L89.60,233.07 L90.00,235.40 L90.40,237.61 L90.80,239.64 L91.20,241.49 L91.60,243.13 L92.00,244.59 L92.40,245.86 L92.80,246.96 L93.20,247.92 L93.60,248.73 L94.00,249.42 L94.40,250.00 L94.80,250.46 L95.20,250.83 L95.60,251.09 L96.00,251.25 L96.40,251.30 L96.80,251.26 L97.20,251.15 L97.60,250.96 L98.00,250.71 L98.40,250.39 L98.80,250.00 L99.20,249.54 L99.60,249.01 L100.00,248.40 L100.40,247.71 L100.80,246.93 L101.20,246.07 L101.60,245.12 L102.00,244.08 L102.40,242.97 L102.80,241.80 L103.20,240.59 L103.60,239.39 L104.00,238.23 L104.40,237.17 L104.80,236.27 L105.20,235.58 L105.60,235.15 L106.00,235.00 L106.42,235.13 L106.85,235.52 L107.28,236.14 L107.70,236.96 L108.12,237.91 L108.55,238.97 L108.97,240.07 L109.40,241.18 L109.83,242.27 L110.25,243.31 L110.67,244.29 L111.10,245.20 L111.53,246.02 L111.95,246.77 L112.38,247.43 L112.80,248.03 L113.23,248.55 L113.65,249.00 L114.08,249.39 L114.50,249.71 L114.92,249.96 L115.35,250.15 L115.78,250.26 L116.20,250.30 L116.56,250.27 L116.92,250.19 L117.28,250.06 L117.63,249.87 L117.99,249.64 L118.35,249.37 L118.71,249.05 L119.07,248.69 L119.42,248.29 L119.78,247.84 L120.14,247.34 L120.50,246.80 L120.86,246.22 L121.22,245.61 L121.58,244.96 L121.93,244.30 L122.29,243.63 L122.65,242.97 L123.01,242.36 L123.37,241.81 L123.72,241.34 L124.08,240.99 L124.44,240.77 L124.80,240.70 L125.22,240.76 L125.64,240.94 L126.06,241.23 L126.48,241.61 L126.90,242.06 L127.33,242.57 L127.75,243.12 L128.17,243.69 L128.59,244.25 L129.01,244.81 L129.43,245.34 L129.85,245.85 L130.27,246.32 L130.69,246.76 L131.11,247.16 L131.53,247.53 L131.95,247.85 L132.38,248.14 L132.80,248.39 L133.22,248.60 L133.64,248.77 L134.06,248.90 L134.48,248.97 L134.90,249.00 L135.28,248.98 L135.66,248.92 L136.04,248.83 L136.42,248.71 L136.80,248.55 L137.18,248.37 L137.55,248.16 L137.93,247.92 L138.31,247.66 L138.69,247.37 L139.07,247.07 L139.45,246.73 L139.83,246.38 L140.21,246.02 L140.59,245.64 L140.97,245.26 L141.35,244.88 L141.72,244.52 L142.10,244.18 L142.48,243.89 L142.86,243.64 L143.24,243.45 L143.62,243.34 L144.00,243.30 L144.41,243.33 L144.82,243.43 L145.24,243.59 L145.65,243.80 L146.06,244.05 L146.47,244.34 L146.89,244.66 L147.30,244.98 L147.71,245.31 L148.12,245.64 L148.54,245.96 L148.95,246.27 L149.36,246.57 L149.78,246.84 L150.19,247.10 L150.60,247.33 L151.01,247.54 L151.43,247.73 L151.84,247.89 L152.25,248.03 L152.66,248.15 L153.08,248.23 L153.49,248.28 L153.90,248.30 L154.28,248.29 L154.66,248.24 L155.04,248.18 L155.42,248.09 L155.80,247.97 L156.18,247.84 L156.55,247.69 L156.93,247.52 L157.31,247.33 L157.69,247.13 L158.07,246.92 L158.45,246.69 L158.83,246.44 L159.21,246.19 L159.59,245.94 L159.97,245.68 L160.35,245.43 L160.72,245.19 L161.10,244.97 L161.48,244.78 L161.86,244.62 L162.24,244.50 L162.62,244.43 L163.00,244.40 L163.40,244.42 L163.80,244.48 L164.20,244.57 L164.60,244.70 L165.00,244.86 L165.40,245.03 L165.80,245.23 L166.20,245.43 L166.60,245.64 L167.00,245.85 L167.40,246.05 L167.80,246.25 L168.20,246.44 L168.60,246.62 L169.00,246.79 L169.40,246.94 L169.80,247.09 L170.20,247.21 L170.60,247.32 L171.00,247.42 L171.40,247.50 L171.80,247.55 L172.20,247.59 L172.60,247.60 L172.99,247.59 L173.38,247.56 L173.78,247.52 L174.17,247.46 L174.56,247.38 L174.95,247.29 L175.34,247.19 L175.73,247.08 L176.12,246.95 L176.52,246.82 L176.91,246.68 L177.30,246.53 L177.69,246.38 L178.08,246.22 L178.47,246.05 L178.87,245.89 L179.26,245.74 L179.65,245.59 L180.04,245.45 L180.43,245.33 L180.82,245.23 L181.22,245.16 L181.61,245.12 L182.00,245.10 L182.19,245.10 L182.38,245.11 L182.56,245.13 L182.75,245.16 L182.94,245.19 L183.12,245.23 L183.31,245.27 L183.50,245.32 L183.69,245.38 L183.88,245.44 L184.06,245.50 L184.25,245.57 L184.44,245.64 L184.62,245.71 L184.81,245.79 L185.00,245.86 L185.19,245.94 L185.38,246.02 L185.56,246.10 L185.75,246.18 L185.94,246.26 L186.12,246.34 L186.31,246.42 L186.50,246.50" fill="none" stroke="#2f7e8c" stroke-width="1.3" stroke-linejoin="round" stroke-linecap="butt"/><path d="M206.00,224.30 L206.15,225.88 L206.29,227.36 L206.44,228.72 L206.58,230.00 L206.73,231.18 L206.88,232.27 L207.02,233.28 L207.17,234.22 L207.31,235.08 L207.46,235.88 L207.60,236.61 L207.75,237.27 L207.90,237.88 L208.04,238.43 L208.19,238.92 L208.33,239.36 L208.48,239.75 L208.62,240.08 L208.77,240.36 L208.92,240.59 L209.06,240.77 L209.21,240.90 L209.35,240.97 L209.50,241.00 L209.90,240.88 L210.29,240.51 L210.69,239.91 L211.08,239.07 L211.48,237.99 L211.88,236.66 L212.27,235.06 L212.67,233.17 L213.06,230.96 L213.46,228.39 L213.85,225.42 L214.25,222.03 L214.65,218.17 L215.04,213.84 L215.44,209.06 L215.83,203.86 L216.23,198.36 L216.62,192.71 L217.02,187.14 L217.42,181.94 L217.81,177.42 L218.21,173.90 L218.60,171.67 L219.00,170.90 L219.44,171.82 L219.88,174.49 L220.31,178.67 L220.75,183.98 L221.19,190.03 L221.62,196.40 L222.06,202.75 L222.50,208.83 L222.94,214.46 L223.38,219.54 L223.81,224.05 L224.25,227.98 L224.69,231.38 L225.12,234.29 L225.56,236.77 L226.00,238.87 L226.44,240.64 L226.88,242.11 L227.31,243.32 L227.75,244.29 L228.19,245.04 L228.62,245.57 L229.06,245.89 L229.50,246.00 L229.90,245.91 L230.30,245.64 L230.70,245.20 L231.10,244.59 L231.50,243.81 L231.90,242.84 L232.30,241.67 L232.70,240.30 L233.10,238.69 L233.50,236.81 L233.90,234.66 L234.30,232.18 L234.70,229.38 L235.10,226.23 L235.50,222.75 L235.90,218.97 L236.30,214.96 L236.70,210.85 L237.10,206.80 L237.50,203.02 L237.90,199.74 L238.30,197.18 L238.70,195.56 L239.10,195.00 L239.53,195.56 L239.96,197.18 L240.39,199.74 L240.82,203.02 L241.25,206.80 L241.68,210.85 L242.10,214.96 L242.53,218.97 L242.96,222.75 L243.39,226.23 L243.82,229.38 L244.25,232.18 L244.68,234.66 L245.11,236.81 L245.54,238.69 L245.97,240.30 L246.40,241.67 L246.82,242.84 L247.25,243.81 L247.68,244.59 L248.11,245.20 L248.54,245.64 L248.97,245.91 L249.40,246.00 L249.78,245.93 L250.17,245.73 L250.55,245.40 L250.93,244.94 L251.32,244.36 L251.70,243.65 L252.08,242.82 L252.47,241.85 L252.85,240.73 L253.23,239.46 L253.62,238.02 L254.00,236.42 L254.38,234.63 L254.77,232.68 L255.15,230.56 L255.53,228.32 L255.92,226.01 L256.30,223.68 L256.68,221.43 L257.07,219.37 L257.45,217.60 L257.83,216.25 L258.22,215.39 L258.60,215.10 L258.99,215.37 L259.38,216.17 L259.78,217.44 L260.17,219.10 L260.56,221.05 L260.95,223.17 L261.34,225.38 L261.73,227.59 L262.12,229.74 L262.52,231.77 L262.91,233.66 L263.30,235.40 L263.69,236.97 L264.08,238.38 L264.48,239.64 L264.87,240.74 L265.26,241.71 L265.65,242.54 L266.04,243.25 L266.43,243.83 L266.82,244.29 L267.22,244.63 L267.61,244.83 L268.00,244.90 L268.38,244.85 L268.76,244.69 L269.14,244.44 L269.52,244.09 L269.90,243.66 L270.27,243.13 L270.65,242.52 L271.03,241.83 L271.41,241.04 L271.79,240.15 L272.17,239.18 L272.55,238.10 L272.93,236.94 L273.31,235.69 L273.69,234.37 L274.07,232.99 L274.45,231.61 L274.83,230.24 L275.20,228.94 L275.58,227.77 L275.96,226.78 L276.34,226.03 L276.72,225.56 L277.10,225.40 L277.50,225.53 L277.90,225.90 L278.30,226.50 L278.70,227.29 L279.10,228.24 L279.50,229.30 L279.90,230.42 L280.30,231.58 L280.70,232.73 L281.10,233.85 L281.50,234.93 L281.90,235.94 L282.30,236.88 L282.70,237.75 L283.10,238.54 L283.50,239.25 L283.90,239.89 L284.30,240.45 L284.70,240.94 L285.10,241.34 L285.50,241.67 L285.90,241.90 L286.30,242.05 L286.70,242.10 L287.10,242.06 L287.50,241.95 L287.90,241.78 L288.30,241.53 L288.70,241.23 L289.10,240.88 L289.50,240.47 L289.90,240.01 L290.30,239.50 L290.70,238.93 L291.10,238.32 L291.50,237.66 L291.90,236.97 L292.30,236.23 L292.70,235.47 L293.10,234.70 L293.50,233.94 L293.90,233.20 L294.30,232.52 L294.70,231.91 L295.10,231.40 L295.50,231.02 L295.90,230.78 L296.30,230.70 L296.71,230.76 L297.12,230.96 L297.53,231.26 L297.93,231.67 L298.34,232.17 L298.75,232.73 L299.16,233.34 L299.57,233.97 L299.98,234.61 L300.38,235.24 L300.79,235.86 L301.20,236.45 L301.61,237.01 L302.02,237.53 L302.43,238.02 L302.83,238.46 L303.24,238.87 L303.65,239.22 L304.06,239.54 L304.47,239.80 L304.88,240.01 L305.28,240.17 L305.69,240.27 L306.10,240.30 L306.48,240.27 L306.87,240.20 L307.25,240.07 L307.63,239.90 L308.02,239.69 L308.40,239.45 L308.78,239.17 L309.17,238.85 L309.55,238.51 L309.93,238.13 L310.32,237.73 L310.70,237.30 L311.08,236.85 L311.47,236.38 L311.85,235.90 L312.23,235.42 L312.62,234.95 L313.00,234.50 L313.38,234.08 L313.77,233.72 L314.15,233.41 L314.53,233.19 L314.92,233.05 L315.30,233.00 L315.71,233.04 L316.12,233.15 L316.53,233.34 L316.93,233.58 L317.34,233.88 L317.75,234.22 L318.16,234.59 L318.57,234.98 L318.98,235.38 L319.38,235.78 L319.79,236.17 L320.20,236.55 L320.61,236.91 L321.02,237.25 L321.43,237.57 L321.83,237.86 L322.24,238.13 L322.65,238.37 L323.06,238.58 L323.47,238.76 L323.88,238.90 L324.28,239.01 L324.69,239.08 L325.10,239.10 L325.50,239.08 L325.90,239.03 L326.30,238.94 L326.70,238.81 L327.10,238.66 L327.50,238.49 L327.90,238.29 L328.30,238.07 L328.70,237.82 L329.10,237.56 L329.50,237.28 L329.90,236.98 L330.30,236.67 L330.70,236.35 L331.10,236.03 L331.50,235.70 L331.90,235.38 L332.30,235.08 L332.70,234.81 L333.10,234.57 L333.50,234.37 L333.90,234.22 L334.30,234.13 L334.70,234.10 L334.86,234.11 L335.02,234.12 L335.19,234.15 L335.35,234.19 L335.51,234.23 L335.68,234.29 L335.84,234.36 L336.00,234.43 L336.16,234.52 L336.32,234.61 L336.49,234.71 L336.65,234.82 L336.81,234.93 L336.98,235.05 L337.14,235.17 L337.30,235.30 L337.46,235.43 L337.62,235.57 L337.79,235.70 L337.95,235.84 L338.11,235.98 L338.28,236.12 L338.44,236.26 L338.60,236.40" fill="none" stroke="#f2a892" stroke-width="1.3" stroke-linejoin="round" stroke-linecap="butt"/><path d="M206.00,242.10 L206.12,242.76 L206.25,243.38 L206.38,243.96 L206.50,244.50 L206.62,245.00 L206.75,245.47 L206.88,245.91 L207.00,246.31 L207.12,246.69 L207.25,247.03 L207.38,247.35 L207.50,247.65 L207.62,247.91 L207.75,248.16 L207.88,248.38 L208.00,248.57 L208.12,248.74 L208.25,248.89 L208.38,249.01 L208.50,249.12 L208.62,249.20 L208.75,249.25 L208.88,249.29 L209.00,249.30 L209.38,249.21 L209.76,248.94 L210.14,248.50 L210.52,247.87 L210.90,247.05 L211.28,246.03 L211.65,244.77 L212.03,243.25 L212.41,241.42 L212.79,239.25 L213.17,236.66 L213.55,233.61 L213.93,230.04 L214.31,225.90 L214.69,221.17 L215.07,215.88 L215.45,210.10 L215.82,203.98 L216.20,197.80 L216.58,191.88 L216.96,186.63 L217.34,182.48 L217.72,179.82 L218.10,178.90 L218.55,179.88 L219.00,182.71 L219.45,187.11 L219.90,192.65 L220.35,198.87 L220.80,205.33 L221.25,211.66 L221.70,217.61 L222.15,223.01 L222.60,227.78 L223.05,231.93 L223.50,235.48 L223.95,238.48 L224.40,241.01 L224.85,243.12 L225.30,244.88 L225.75,246.33 L226.20,247.53 L226.65,248.50 L227.10,249.26 L227.55,249.85 L228.00,250.27 L228.45,250.52 L228.90,250.60 L229.30,250.54 L229.70,250.36 L230.10,250.06 L230.50,249.64 L230.90,249.10 L231.30,248.44 L231.70,247.64 L232.10,246.69 L232.50,245.58 L232.90,244.28 L233.30,242.78 L233.70,241.06 L234.10,239.10 L234.50,236.90 L234.90,234.45 L235.30,231.78 L235.70,228.94 L236.10,226.03 L236.50,223.15 L236.90,220.45 L237.30,218.10 L237.70,216.27 L238.10,215.10 L238.50,214.70 L238.93,215.08 L239.35,216.19 L239.78,217.94 L240.20,220.19 L240.62,222.79 L241.05,225.57 L241.47,228.39 L241.90,231.15 L242.32,233.75 L242.75,236.16 L243.17,238.34 L243.60,240.28 L244.03,241.99 L244.45,243.49 L244.88,244.79 L245.30,245.92 L245.72,246.88 L246.15,247.69 L246.57,248.36 L247.00,248.91 L247.42,249.34 L247.85,249.65 L248.27,249.84 L248.70,249.90 L249.06,249.86 L249.42,249.73 L249.79,249.53 L250.15,249.24 L250.51,248.89 L250.88,248.46 L251.24,247.95 L251.60,247.36 L251.96,246.69 L252.32,245.94 L252.69,245.09 L253.05,244.15 L253.41,243.12 L253.77,242.00 L254.14,240.80 L254.50,239.54 L254.86,238.24 L255.22,236.96 L255.59,235.73 L255.95,234.60 L256.31,233.65 L256.67,232.92 L257.04,232.46 L257.40,232.30 L257.81,232.44 L258.22,232.84 L258.62,233.47 L259.03,234.31 L259.44,235.30 L259.85,236.40 L260.26,237.55 L260.67,238.71 L261.07,239.86 L261.48,240.96 L261.89,242.00 L262.30,242.96 L262.71,243.84 L263.12,244.64 L263.52,245.37 L263.93,246.01 L264.34,246.58 L264.75,247.07 L265.16,247.50 L265.57,247.85 L265.97,248.13 L266.38,248.33 L266.79,248.46 L267.20,248.50 L267.57,248.47 L267.93,248.39 L268.30,248.25 L268.67,248.06 L269.03,247.83 L269.40,247.55 L269.77,247.22 L270.13,246.86 L270.50,246.45 L270.87,246.00 L271.23,245.50 L271.60,244.97 L271.97,244.40 L272.33,243.79 L272.70,243.16 L273.07,242.52 L273.43,241.88 L273.80,241.25 L274.17,240.67 L274.53,240.14 L274.90,239.71 L275.27,239.38 L275.63,239.17 L276.00,239.10 L276.40,239.16 L276.80,239.32 L277.20,239.59 L277.60,239.94 L278.00,240.37 L278.40,240.85 L278.80,241.37 L279.20,241.90 L279.60,242.44 L280.00,242.98 L280.40,243.49 L280.80,243.98 L281.20,244.44 L281.60,244.87 L282.00,245.27 L282.40,245.63 L282.80,245.95 L283.20,246.24 L283.60,246.49 L284.00,246.70 L284.40,246.87 L284.80,247.00 L285.20,247.07 L285.60,247.10 L285.98,247.08 L286.36,247.04 L286.74,246.96 L287.12,246.85 L287.50,246.72 L287.88,246.57 L288.25,246.40 L288.63,246.20 L289.01,245.99 L289.39,245.76 L289.77,245.51 L290.15,245.24 L290.53,244.96 L290.91,244.68 L291.29,244.38 L291.67,244.08 L292.05,243.79 L292.43,243.52 L292.80,243.26 L293.18,243.04 L293.56,242.85 L293.94,242.71 L294.32,242.63 L294.70,242.60 L295.10,242.62 L295.50,242.70 L295.90,242.81 L296.30,242.97 L296.70,243.16 L297.10,243.38 L297.50,243.62 L297.90,243.87 L298.30,244.12 L298.70,244.38 L299.10,244.63 L299.50,244.87 L299.90,245.10 L300.30,245.32 L300.70,245.52 L301.10,245.71 L301.50,245.88 L301.90,246.03 L302.30,246.17 L302.70,246.28 L303.10,246.37 L303.50,246.44 L303.90,246.49 L304.30,246.50 L304.69,246.49 L305.08,246.46 L305.48,246.41 L305.87,246.34 L306.26,246.25 L306.65,246.15 L307.04,246.04 L307.43,245.92 L307.82,245.78 L308.22,245.63 L308.61,245.47 L309.00,245.31 L309.39,245.13 L309.78,244.95 L310.18,244.77 L310.57,244.59 L310.96,244.41 L311.35,244.25 L311.74,244.09 L312.13,243.96 L312.52,243.85 L312.92,243.77 L313.31,243.72 L313.70,243.70 L314.10,243.71 L314.50,243.75 L314.90,243.82 L315.30,243.91 L315.70,244.02 L316.10,244.14 L316.50,244.28 L316.90,244.42 L317.30,244.57 L317.70,244.72 L318.10,244.86 L318.50,245.01 L318.90,245.15 L319.30,245.28 L319.70,245.40 L320.10,245.51 L320.50,245.62 L320.90,245.71 L321.30,245.79 L321.70,245.86 L322.10,245.92 L322.50,245.96 L322.90,245.99 L323.30,246.00 L323.70,245.99 L324.10,245.97 L324.50,245.94 L324.90,245.89 L325.30,245.84 L325.70,245.77 L326.10,245.70 L326.50,245.61 L326.90,245.52 L327.30,245.43 L327.70,245.32 L328.10,245.22 L328.50,245.10 L328.90,244.99 L329.30,244.87 L329.70,244.76 L330.10,244.65 L330.50,244.54 L330.90,244.45 L331.30,244.36 L331.70,244.29 L332.10,244.24 L332.50,244.21 L332.90,244.20 L333.14,244.20 L333.38,244.21 L333.61,244.22 L333.85,244.24 L334.09,244.26 L334.32,244.29 L334.56,244.32 L334.80,244.36 L335.04,244.40 L335.27,244.44 L335.51,244.48 L335.75,244.53 L335.99,244.58 L336.23,244.62 L336.46,244.67 L336.70,244.72 L336.94,244.77 L337.18,244.82 L337.41,244.87 L337.65,244.92 L337.89,244.97 L338.12,245.01 L338.36,245.06 L338.60,245.10" fill="none" stroke="#2f7e8c" stroke-width="1.3" stroke-linejoin="round" stroke-linecap="butt"/><path d="M47.2,20.8 V128.9 H193.3" fill="none" stroke="#2a2a2a" stroke-width="1.35"/><path d="M199.6,128.9 H345.6" fill="none" stroke="#2a2a2a" stroke-width="1.35"/><path d="M47.2,143.8 V256.8 H193.3" fill="none" stroke="#2a2a2a" stroke-width="1.35"/><path d="M199.6,256.8 H345.6" fill="none" stroke="#2a2a2a" stroke-width="1.35"/><rect x="48.2" y="1.7" width="144.3" height="19.1" fill="#fff" stroke="#2a2a2a" stroke-width="1.35" stroke-linejoin="round"/><rect x="199.7" y="1.7" width="145.10000000000002" height="19.1" fill="#fff" stroke="#2a2a2a" stroke-width="1.35" stroke-linejoin="round"/><line x1="43.900000000000006" x2="47.2" y1="50.9" y2="50.9" stroke="#2a2a2a" stroke-width="1.25"/><line x1="43.900000000000006" x2="47.2" y1="90.1" y2="90.1" stroke="#2a2a2a" stroke-width="1.25"/><line x1="43.900000000000006" x2="47.2" y1="161.0" y2="161.0" stroke="#2a2a2a" stroke-width="1.25"/><line x1="43.900000000000006" x2="47.2" y1="194.0" y2="194.0" stroke="#2a2a2a" stroke-width="1.25"/><line x1="43.900000000000006" x2="47.2" y1="226.7" y2="226.7" stroke="#2a2a2a" stroke-width="1.25"/><line x1="53.8" x2="53.8" y1="256.8" y2="260.1" stroke="#2a2a2a" stroke-width="1.25"/><line x1="87.0" x2="87.0" y1="256.8" y2="260.1" stroke="#2a2a2a" stroke-width="1.25"/><line x1="120.3" x2="120.3" y1="256.8" y2="260.1" stroke="#2a2a2a" stroke-width="1.25"/><line x1="153.5" x2="153.5" y1="256.8" y2="260.1" stroke="#2a2a2a" stroke-width="1.25"/><line x1="186.6" x2="186.6" y1="256.8" y2="260.1" stroke="#2a2a2a" stroke-width="1.25"/><line x1="206.0" x2="206.0" y1="256.8" y2="260.1" stroke="#2a2a2a" stroke-width="1.25"/><line x1="239.15" x2="239.15" y1="256.8" y2="260.1" stroke="#2a2a2a" stroke-width="1.25"/><line x1="272.3" x2="272.3" y1="256.8" y2="260.1" stroke="#2a2a2a" stroke-width="1.25"/><line x1="305.45" x2="305.45" y1="256.8" y2="260.1" stroke="#2a2a2a" stroke-width="1.25"/><line x1="338.6" x2="338.6" y1="256.8" y2="260.1" stroke="#2a2a2a" stroke-width="1.25"/><line x1="146.4" x2="156.8" y1="309.3" y2="309.3" stroke="#f2a892" stroke-width="1.3"/><line x1="203.4" x2="213.8" y1="309.3" y2="309.3" stroke="#2f7e8c" stroke-width="1.3"/><text transform="translate(61.0,14.0) rotate(0.03) scale(0.96,1)" font-size="10.0" text-anchor="start" fill="#1a1a1a" stroke="#1a1a1a">Uniform Awareness (<tspan font-family="Liberation Serif">ε</tspan><tspan dx="-0.5"> =</tspan><tspan dx="-0.5"> 0.5)</tspan></text><text transform="translate(205.0,14.0) rotate(0.03) scale(0.96,1)" font-size="10.0" text-anchor="start" fill="#1a1a1a" stroke="#1a1a1a">Separated Awareness (<tspan font-family="Liberation Serif">ε</tspan><tspan dx="-0.5"> =</tspan><tspan dx="-0.5"> 0.99)</tspan></text><text transform="translate(41.6,54.4) rotate(0.03) scale(0.96,1)" font-size="10.0" text-anchor="end" fill="#424242" stroke="#424242">0.02</text><text transform="translate(41.6,93.6) rotate(0.03) scale(0.96,1)" font-size="10.0" text-anchor="end" fill="#424242" stroke="#424242">0.01</text><text transform="translate(41.6,164.5) rotate(0.03) scale(0.96,1)" font-size="10.0" text-anchor="end" fill="#424242" stroke="#424242">6e−06</text><text transform="translate(41.6,197.5) rotate(0.03) scale(0.96,1)" font-size="10.0" text-anchor="end" fill="#424242" stroke="#424242">4e−06</text><text transform="translate(41.6,230.2) rotate(0.03) scale(0.96,1)" font-size="10.0" text-anchor="end" fill="#424242" stroke="#424242">2e−06</text><text transform="translate(53.8,269.4) rotate(0.03) scale(0.96,1)" font-size="10.0" text-anchor="middle" fill="#424242" stroke="#424242">0</text><text transform="translate(87.0,269.4) rotate(0.03) scale(0.96,1)" font-size="10.0" text-anchor="middle" fill="#424242" stroke="#424242">500</text><text transform="translate(120.3,269.4) rotate(0.03) scale(0.96,1)" font-size="10.0" text-anchor="middle" fill="#424242" stroke="#424242">1000</text><text transform="translate(153.5,269.4) rotate(0.03) scale(0.96,1)" font-size="10.0" text-anchor="middle" fill="#424242" stroke="#424242">1500</text><text transform="translate(186.6,269.4) rotate(0.03) scale(0.96,1)" font-size="10.0" text-anchor="middle" fill="#424242" stroke="#424242">2000</text><text transform="translate(206.0,269.4) rotate(0.03) scale(0.96,1)" font-size="10.0" text-anchor="middle" fill="#424242" stroke="#424242">0</text><text transform="translate(239.15,269.4) rotate(0.03) scale(0.96,1)" font-size="10.0" text-anchor="middle" fill="#424242" stroke="#424242">500</text><text transform="translate(272.3,269.4) rotate(0.03) scale(0.96,1)" font-size="10.0" text-anchor="middle" fill="#424242" stroke="#424242">1000</text><text transform="translate(305.45,269.4) rotate(0.03) scale(0.96,1)" font-size="10.0" text-anchor="middle" fill="#424242" stroke="#424242">1500</text><text transform="translate(338.6,269.4) rotate(0.03) scale(0.96,1)" font-size="10.0" text-anchor="middle" fill="#424242" stroke="#424242">2000</text><text transform="translate(196.2,283.3) rotate(0.03) scale(0.957,1)" font-size="12.4" text-anchor="middle" fill="#1a1a1a" stroke="#1a1a1a">Time (post−vaccine)</text><text transform="translate(9.4,75.1) rotate(-90)" font-size="11.8" text-anchor="middle" fill="#1a1a1a" stroke="#1a1a1a" stroke-width="0.25">Infections</text><text transform="translate(9.4,200.1) rotate(-90)" font-size="11.8" text-anchor="middle" fill="#1a1a1a" stroke="#1a1a1a" stroke-width="0.25">Deaths</text><text transform="translate(164.2,310.6) rotate(0.03) scale(0.96,1)" font-size="10.0" text-anchor="start" fill="#1a1a1a" stroke="#1a1a1a">group <tspan font-style="italic">a</tspan></text><text transform="translate(221.2,310.6) rotate(0.03) scale(0.96,1)" font-size="10.0" text-anchor="start" fill="#1a1a1a" stroke="#1a1a1a">group <tspan font-style="italic">b</tspan></text></svg>
</body></html>
